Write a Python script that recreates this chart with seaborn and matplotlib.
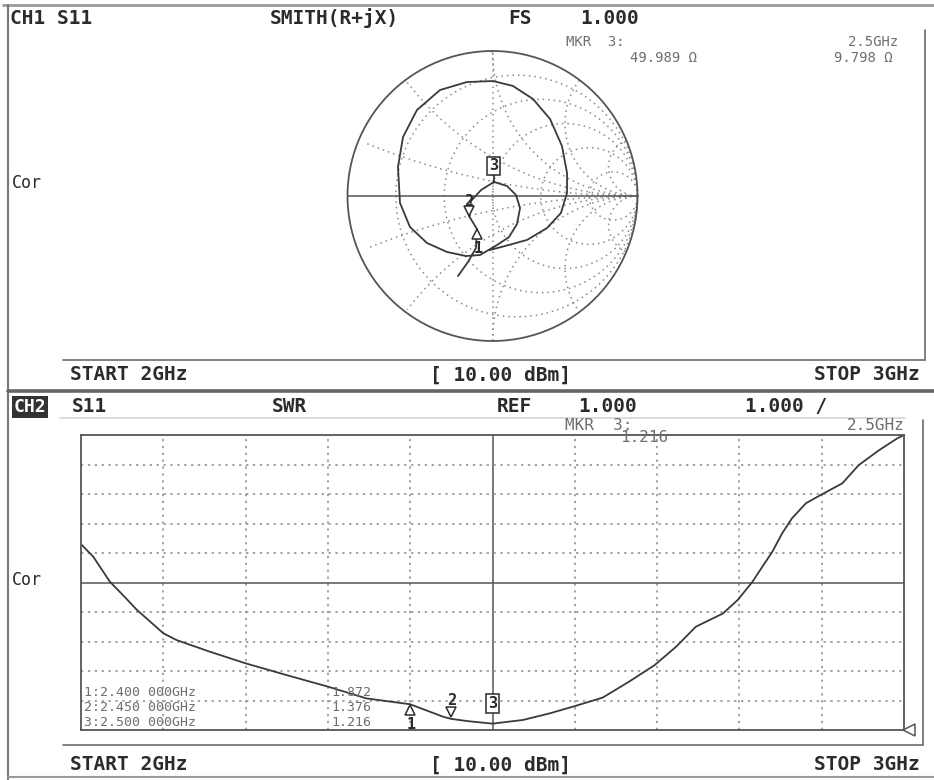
import numpy as np
import pandas as pd
import matplotlib
matplotlib.use("Agg")
import matplotlib.pyplot as plt
from matplotlib.transforms import offset_copy
import seaborn as sns

sns.set_theme(style="white")
plt.rcParams["font.family"] = ["DejaVu Sans Mono", "DejaVu Sans"]

W, H = 934, 780
INK = "#2b2b2b"
GREY = "#6e6e6e"
GRID = "#8a8a8a"

# ── CH2: SWR vs frequency ──
swr_freq = [2.000, 2.015, 2.035, 2.050, 2.068, 2.085, 2.100, 2.116, 2.157, 2.200,
            2.250, 2.300, 2.347, 2.400, 2.440, 2.450, 2.470, 2.500, 2.537, 2.569,
            2.600, 2.634, 2.666, 2.697, 2.723, 2.747, 2.780, 2.798, 2.816, 2.828,
            2.840, 2.852, 2.864, 2.881, 2.899, 2.925, 2.945, 2.970, 2.992, 3.000]
swr_val = [7.30, 6.87, 6.03, 5.60, 5.07, 4.65, 4.28, 4.05, 3.65, 3.26,
           2.86, 2.47, 2.07, 1.872, 1.45, 1.376, 1.30, 1.216, 1.34, 1.56,
           1.81, 2.10, 2.64, 3.20, 3.82, 4.50, 4.95, 5.41, 6.03, 6.54,
           7.04, 7.67, 8.18, 8.69, 8.97, 9.36, 9.98, 10.49, 10.89, 11.00]

mkr_freq = [2.400, 2.450, 2.500]
mkr_swr = [1.872, 1.376, 1.216]

# ── CH1: S11 trace on the Smith chart (reflection coefficient, re / im) ──
smith_re = [-0.238, -0.169, -0.114, -0.107, -0.162, -0.148, -0.079, 0.010, 0.100, 0.162,
            0.190, 0.169, 0.114, 0.031, -0.086, -0.183, -0.314, -0.452, -0.569, -0.638,
            -0.652, -0.617, -0.521, -0.362, -0.176, 0.003, 0.141, 0.279, 0.397, 0.479,
            0.514, 0.514, 0.472, 0.376, 0.238, 0.086, -0.017]
smith_im = [-0.552, -0.455, -0.359, -0.228, -0.138, -0.034, 0.041, 0.097, 0.069, 0.007,
            -0.083, -0.193, -0.283, -0.338, -0.407, -0.414, -0.386, -0.324, -0.214, -0.048,
            0.200, 0.407, 0.593, 0.731, 0.786, 0.793, 0.759, 0.669, 0.531, 0.345,
            0.159, 0.021, -0.117, -0.221, -0.303, -0.345, -0.372]
smith_mkr_re = [-0.107, -0.162]
smith_mkr_im = [-0.228, -0.138]
mkr3_r, mkr3_x, z0 = 49.989, 9.798, 50.0

r_circles = [0.2, 0.5, 1.0, 2.0, 5.0]
x_arcs = [0.2, 0.5, 1.0, 2.0, 5.0]

fig = plt.figure(figsize=(W / 100, H / 100), dpi=100)
fig.patch.set_facecolor("white")


def box(left, top, right, bottom):
    return [left / W, 1 - bottom / H, (right - left) / W, (bottom - top) / H]


def shifted(ax, dx=0, dy=0):
    return offset_copy(ax.transData, fig=fig, x=dx, y=dy, units="dots")


# ═══════════════════════════════════════════
# Smith chart
# ═══════════════════════════════════════════
R_PX, CX, CY = 145, 492.5, 196
half = 1.05 * R_PX
ax_s = fig.add_axes(box(CX - half, CY - half, CX + half, CY + half))
ax_s.set_xlim(-1.05, 1.05)
ax_s.set_ylim(-1.05, 1.05)
ax_s.axis("off")

dot = dict(color=GRID, lw=1.1, ls=(0, (1, 2.6)))
t = np.linspace(0, 2 * np.pi, 400)
for r in r_circles:
    c, rad = r / (1 + r), 1 / (1 + r)
    ax_s.plot(c + rad * np.cos(t), rad * np.sin(t), **dot)
for xv in x_arcs:
    for sgn in (1, -1):
        rad = 1 / xv
        px = 1 + rad * np.cos(t)
        py = sgn * rad + rad * np.sin(t)
        inside = px ** 2 + py ** 2 <= 1.0001
        px, py = np.where(inside, px, np.nan), np.where(inside, py, np.nan)
        ax_s.plot(px, py, **dot)
ax_s.plot([0, 0], [-1, 1], **dot)
ax_s.plot(np.cos(t), np.sin(t), color="#555", lw=1.3)
ax_s.plot([-1, 1], [0, 0], color="#555", lw=1.1)

sns.lineplot(x=smith_re, y=smith_im, sort=False, estimator=None,
             color="#3a3a3a", lw=1.3, ax=ax_s)

z3 = complex(mkr3_r, mkr3_x) / z0
g3 = (z3 - 1) / (z3 + 1)
m1x, m1y = smith_mkr_re[0], smith_mkr_im[0]
m2x, m2y = smith_mkr_re[1], smith_mkr_im[1]
ax_s.plot([m1x], [m1y], marker="^", ms=7, mfc="white", mec=INK, mew=1.1,
          transform=shifted(ax_s, 0, -5), zorder=5)
ax_s.text(m1x, m1y, "1", ha="center", va="center", fontsize=11, fontweight="bold",
          color=INK, transform=shifted(ax_s, 1, -19), zorder=6)
ax_s.plot([m2x], [m2y], marker="v", ms=7, mfc="white", mec=INK, mew=1.1,
          transform=shifted(ax_s, 0, 5), zorder=5)
ax_s.text(m2x, m2y, "2", ha="center", va="center", fontsize=11, fontweight="bold",
          color=INK, transform=shifted(ax_s, 0, 15), zorder=6)
ax_s.plot([g3.real], [g3.imag], marker="|", ms=7, color=INK, mew=1.2,
          transform=shifted(ax_s, 0, 5), zorder=5)
ax_s.text(g3.real, g3.imag, "3", ha="center", va="center", fontsize=11, fontweight="bold",
          color=INK, transform=shifted(ax_s, 0, 16), zorder=6,
          bbox=dict(boxstyle="square,pad=0.12", fc="white", ec=INK, lw=1.1))

# ═══════════════════════════════════════════
# SWR plot
# ═══════════════════════════════════════════
ax = fig.add_axes(box(81, 435, 904, 730))
df_swr = pd.DataFrame({"freq": swr_freq, "swr": swr_val})
ax.set_xlim(2.0, 3.0)
ax.set_ylim(1.0, 11.0)
for xv in np.arange(2.1, 3.0, 0.1):
    solid = abs(xv - 2.5) < 1e-6
    ax.axvline(xv, color="#555" if solid else GRID, lw=1.1,
               ls="-" if solid else (0, (1.5, 3)))
for yv in range(2, 11):
    solid = yv == 6
    ax.axhline(yv, color="#555" if solid else GRID, lw=1.1,
               ls="-" if solid else (0, (1.5, 3)))
sns.lineplot(data=df_swr, x="freq", y="swr", color="#3a3a3a", lw=1.3, ax=ax)
ax.set_xticks([])
ax.set_yticks([])
ax.set_xlabel("")
ax.set_ylabel("")
for sp in ax.spines.values():
    sp.set_color("#555")
    sp.set_linewidth(1.3)

ax.plot([3.0], [1.0], marker="<", ms=8, mfc="white", mec="#555", mew=1.1,
        transform=shifted(ax, 5, 0), clip_on=False, zorder=5)
ax.plot([mkr_freq[0]], [mkr_swr[0]], marker="^", ms=7, mfc="white", mec=INK, mew=1.1,
        transform=shifted(ax, 0, -6), clip_on=False, zorder=5)
ax.text(mkr_freq[0], mkr_swr[0], "1", ha="center", va="center", fontsize=11,
        fontweight="bold", color=INK, transform=shifted(ax, 1, -20), zorder=6)
ax.plot([mkr_freq[1]], [mkr_swr[1]], marker="v", ms=7, mfc="white", mec=INK, mew=1.1,
        transform=shifted(ax, 0, 7), zorder=5)
ax.text(mkr_freq[1], mkr_swr[1], "2", ha="center", va="center", fontsize=11,
        fontweight="bold", color=INK, transform=shifted(ax, 0, 18), zorder=6)
ax.text(mkr_freq[2], mkr_swr[2], "3", ha="center", va="center", fontsize=11,
        fontweight="bold", color=INK, transform=shifted(ax, 0, 20), zorder=6,
        bbox=dict(boxstyle="square,pad=0.12", fc="white", ec=INK, lw=1.1))

# ═══════════════════════════════════════════
# screen frame + annotation text
# ═══════════════════════════════════════════
ov = fig.add_axes([0, 0, 1, 1], zorder=10)
ov.patch.set_alpha(0)
ov.set_xlim(0, W)
ov.set_ylim(H, 0)
ov.axis("off")

ov.plot([3, W], [5, 5], color="#9a9a9a", lw=2)
ov.plot([8, 8], [5, H], color="#777", lw=1.5)
ov.plot([925, 925], [30, 360], color="#777", lw=1.3)
ov.plot([63, 925], [360, 360], color="#777", lw=1.3)
ov.plot([8, W], [391, 391], color="#666", lw=2.6)
ov.plot([60, 905], [418, 418], color="#d5d5d5", lw=1.2)
ov.plot([923, 923], [420, 745], color="#777", lw=1.3)
ov.plot([63, 923], [745, 745], color="#777", lw=1.3)
ov.plot([8, W], [777, 777], color="#9a9a9a", lw=1.5)

hdr = dict(fontsize=14, fontweight="bold", color=INK, va="center")
small = dict(fontsize=11.5, color=GREY, va="center")
readout = dict(fontsize=10, color=GREY, va="center")

# CH1 header
ov.text(10, 18, "CH1 S11", ha="left", **hdr)
ov.text(270, 18, "SMITH(R+jX)", ha="left", **hdr)
ov.text(508, 18, "FS", ha="left", **hdr)
ov.text(580, 18, "1.000", ha="left", **hdr)
ov.text(566, 42, "MKR  3:", ha="left", **readout)
ov.text(697, 58, f"{mkr3_r:.3f} Ω", ha="right", **readout)
ov.text(898, 42, f"{mkr_freq[2]:.1f}GHz", ha="right", **readout)
ov.text(893, 58, f"{mkr3_x:.3f} Ω", ha="right", **readout)
ov.text(12, 183, "Cor", ha="left", fontsize=12, color=INK, va="center")
ov.text(70, 375, "START 2GHz", ha="left", **hdr)
ov.text(430, 375, "[ 10.00 dBm]", ha="left", **hdr)
ov.text(920, 375, "STOP 3GHz", ha="right", **hdr)

# CH2 header
ov.text(14, 407, "CH2", ha="left", fontsize=13, fontweight="bold", color="white",
        va="center", bbox=dict(boxstyle="square,pad=0.1", fc="#333", ec="none"))
ov.text(72, 407, "S11", ha="left", **hdr)
ov.text(272, 407, "SWR", ha="left", **hdr)
ov.text(497, 407, "REF", ha="left", **hdr)
ov.text(578, 407, "1.000", ha="left", **hdr)
ov.text(745, 407, "1.000 /", ha="left", **hdr)
ov.text(565, 426, "MKR  3:", ha="left", **small)
ov.text(620, 438, f"{mkr_swr[2]:.3f}", ha="left", **small)
ov.text(905, 426, f"{mkr_freq[2]:.1f}GHz", ha="right", **small)
ov.text(12, 580, "Cor", ha="left", fontsize=12, color=INK, va="center")

# marker table, bottom-left of the SWR grid
for i, (f, v) in enumerate(zip(mkr_freq, mkr_swr)):
    yy = 692 + 15.5 * i
    ov.text(84, yy, f"{i + 1}:{f:.3f} 000GHz", ha="left", fontsize=9.5, color=GREY, va="center")
    ov.text(331, yy, f"{v:.3f}", ha="left", fontsize=9.5, color=GREY, va="center")

ov.text(70, 765, "START 2GHz", ha="left", **hdr)
ov.text(430, 765, "[ 10.00 dBm]", ha="left", **hdr)
ov.text(920, 765, "STOP 3GHz", ha="right", **hdr)

fig.savefig("out.png", dpi=100, facecolor="white")
